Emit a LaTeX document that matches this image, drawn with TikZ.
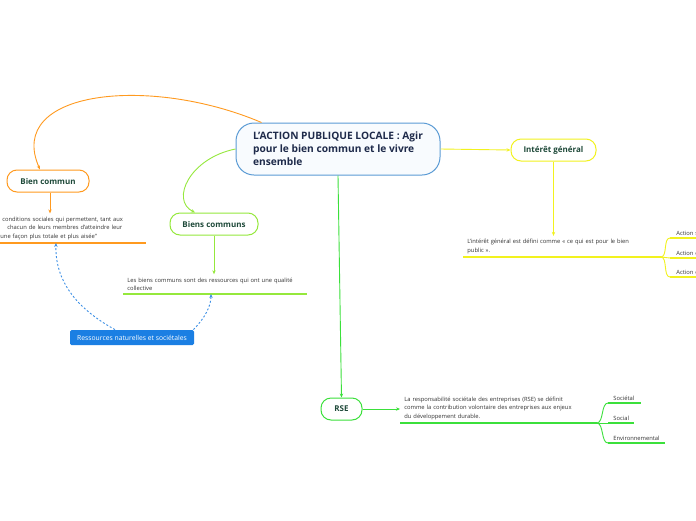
\documentclass[tikz,border=0pt]{standalone}
\usepackage{fontspec}
\setmainfont{Open Sans}
\usepackage{tikz}
\usetikzlibrary{arrows.meta,positioning,calc}
\definecolor{cenborder}{HTML}{5B9BD5}
\definecolor{cenfill}{HTML}{F8FBFE}
\definecolor{centext}{HTML}{1E2A4A}
\definecolor{nodetext}{HTML}{1F4A3A}
\definecolor{notetext}{HTML}{333333}
\definecolor{orangeline}{HTML}{FF9A1F}
\definecolor{limegreen}{HTML}{95E83C}
\definecolor{rsegreen}{HTML}{3BE03B}
\definecolor{yellowline}{HTML}{F2F21E}
\definecolor{resblue}{HTML}{1B7FE3}
\definecolor{linkblue}{HTML}{3C8FE6}

\begin{document}
\begin{tikzpicture}[
  x=1pt, y=-1pt, >={Stealth[length=4pt,width=3.4pt]}, line width=0.8pt,
  topic/.style={rounded corners=10pt, draw, line width=1pt, fill=white,
                minimum height=22pt, inner sep=2pt, text=nodetext,
                font=\bfseries\fontsize{8}{10}\selectfont},
  note/.style={inner xsep=4pt, inner ysep=3pt, align=left, anchor=south west,
               text=notetext, font=\fontsize{5.8}{8.5}\selectfont},
  leaf/.style={note, inner xsep=5pt, inner ysep=2.5pt},
  ul/.style={line width=1.6pt},
  branch/.style={line width=0.9pt},
  arr/.style={->, line width=0.9pt},
  link/.style={->, dashed, dash pattern=on 2pt off 2pt, draw=linkblue,
               line width=0.9pt}
]
  \useasboundingbox (0,0) rectangle (696,520);
  \clip (0,0) rectangle (696,520);
  \fill[white] (0,0) rectangle (696,520);

  % Central topic
  \node[draw=cenborder, fill=cenfill, line width=1pt, rounded corners=18pt,
        minimum width=204pt, minimum height=52pt, align=left, text=centext,
        font=\bfseries\fontsize{10.2}{13}\selectfont] (cen) at (338,149)
       {L'ACTION PUBLIQUE LOCALE : Agir\\pour le bien commun et le vivre\\ensemble};

  % Main topics
  \node[topic, draw=orangeline, minimum width=82pt] (bc) at (48,181) {Bien commun};
  \node[topic, draw=limegreen, minimum width=88pt] (bcs) at (214,224) {Biens communs};
  \node[topic, draw=yellowline, minimum width=85pt] (ig) at (553.5,150) {Intérêt général};
  \node[topic, draw=rsegreen, minimum width=41pt] (rse) at (341.5,409) {RSE};

  % Notes
  \node[note, text width=145pt, inner xsep=0pt] (bctext) at (0,243)
       {\hspace*{2pt}conditions sociales qui permettent, tant aux\\
        \hspace*{7pt}chacun de leurs membres d'atteindre leur\\
        une façon plus totale et plus aisée"};
  \draw[ul, orangeline] (bctext.south west) -- (bctext.south east);

  \node[note, text width=175pt] (bcstext) at (123,294)
       {Les biens communs sont des ressources qui ont une qualité\\collective};
  \draw[ul, limegreen] (bcstext.south west) -- (bcstext.south east);

  \node[note, text width=189pt] (igtext) at (463,257)
       {L'intérêt général est défini comme « ce qui est pour le bien\\public ».};
  \draw[ul, yellowline] (igtext.south west) -- (igtext.south east);

  \node[note, text width=188pt] (rsetext) at (400,423)
       {La responsabilité sociétale des entreprises (RSE) se définit\\
        comme la contribution volontaire des entreprises aux enjeux\\
        du développement durable.};
  \draw[ul, rsegreen] (rsetext.south west) -- (rsetext.south east);

  % Ressources box
  \node[fill=resblue, text=white, rounded corners=1.5pt, minimum width=124pt,
        minimum height=15pt, inner sep=1pt, font=\fontsize{6.8}{8}\selectfont]
       (res) at (132,337.5) {Ressources naturelles et sociétales};

  % Leaves of Interet general
  \node[leaf, text width=30pt, inner xsep=6pt] (act1) at (670,238) {Action s};
  \node[leaf, text width=30pt, inner xsep=6pt] (act2) at (670,258) {Action é};
  \node[leaf, text width=30pt, inner xsep=6pt] (act3) at (670,277) {Action c};
  \foreach \n in {act1,act2,act3}
    \draw[line width=1.3pt, yellowline] (\n.south west) -- (\n.south east);
  \draw[branch, yellowline] (igtext.south east) .. controls +(7,0) and +(-7,0) .. (act1.south west);
  \draw[branch, yellowline] (igtext.south east) -- (act2.south west);
  \draw[branch, yellowline] (igtext.south east) .. controls +(7,0) and +(-7,0) .. (act3.south west);

  % Leaves of RSE
  \node[leaf, text width=22pt] (soc1) at (608,403) {Sociétal};
  \node[leaf, text width=15pt] (soc2) at (608,423) {Social};
  \node[leaf, text width=46pt] (soc3) at (608,443) {Environnemental};
  \foreach \n in {soc1,soc2,soc3}
    \draw[line width=1.3pt, rsegreen] (\n.south west) -- (\n.south east);
  \draw[branch, rsegreen] (rsetext.south east) .. controls +(7,0) and +(-7,0) .. (soc1.south west);
  \draw[branch, rsegreen] (rsetext.south east) -- (soc2.south west);
  \draw[branch, rsegreen] (rsetext.south east) .. controls +(7,0) and +(-7,0) .. (soc3.south west);

  % Connectors
  \draw[arr, orangeline] ($(cen.north west)+(26,0)$)
       .. controls (150,75) and (5,90) .. ([xshift=-8pt]bc.north);
  \draw[arr, orangeline] ([xshift=2pt]bc.south) -- ([xshift=2pt]bc.south |- bctext.north);
  \draw[arr, limegreen] (cen.west)
       .. controls (190,158) and (170,200) .. ([xshift=-19pt]bcs.north);
  \draw[arr, limegreen] (bcs.south) -- (bcs.south |- bcstext.north);
  \draw[arr, yellowline] (cen.east) -- (ig.west);
  \draw[arr, yellowline] (ig.south) -- (ig.south |- igtext.north);
  \draw[arr, rsegreen] (cen.south) -- (rse.north);
  \draw[arr, rsegreen] (rse.east) -- (rse.east -| rsetext.west);

  % dashed links from the box
  \draw[link] ([xshift=-17pt]res.north)
       .. controls (70,305) and (55,275) .. ([xshift=56pt]bctext.south west);
  \draw[link] ([xshift=-1pt]res.north east)
       .. controls (205,318) and (211,306) .. ([xshift=88pt]bcstext.south west);
\end{tikzpicture}
\end{document}
